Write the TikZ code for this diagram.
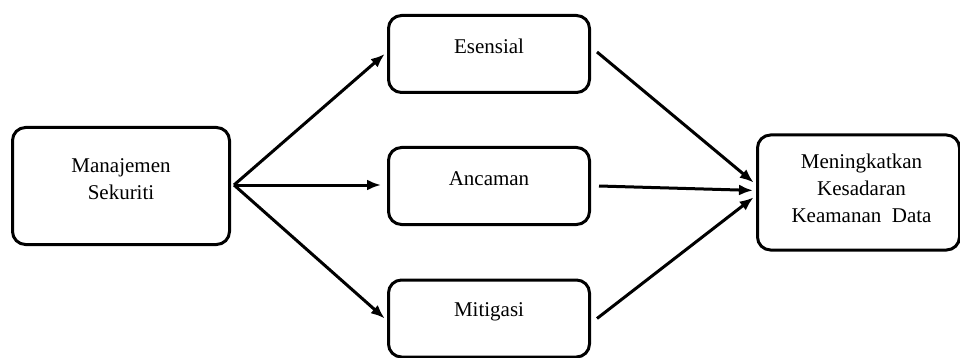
\documentclass[tikz,border=0pt]{standalone}
\usepackage{fontspec}
\setmainfont{Liberation Serif}
\usetikzlibrary{arrows.meta,positioning,calc}
\tikzset{
  kotak/.style={draw, line width=3pt, rounded corners=13pt, inner sep=0pt},
  teks/.style={align=center, font=\fontsize{21}{27}\selectfont},
  panah/.style={line width=3pt, -{Latex[length=14pt,width=11pt]}, shorten >=3pt}
}
\begin{document}
\begin{tikzpicture}[x=1pt,y=-1pt]
    \useasboundingbox (0,0) rectangle (960,358);
    \node[kotak, minimum width=217pt, minimum height=117pt] (mgmt) at (121,186) {};
    \node[kotak, minimum width=201pt, minimum height=77pt] (esensial) at (489,54) {};
    \node[kotak, minimum width=201pt, minimum height=77pt] (ancaman) at (489,186) {};
    \node[kotak, minimum width=201pt, minimum height=77pt] (mitigasi) at (489,318.5) {};
    \node[kotak, minimum width=202pt, minimum height=115pt] (goal) at (858.5,192.5) {};
    \node[teks] (t1) at ([yshift=7pt]mgmt.center) {Manajemen\\Sekuriti};
    \node[teks] (t2) at ([yshift=8pt]esensial.center) {Esensial};
    \node[teks] (t3) at ([yshift=7pt]ancaman.center) {Ancaman};
    \node[teks] (t4) at ([yshift=7pt]mitigasi.center) {Mitigasi};
    \node[teks] (t5) at ([xshift=3pt,yshift=4pt]goal.center) {Meningkatkan\\Kesadaran\\Keamanan~ Data};
    % dari manajemen ke tiga faktor
    \coordinate (hub) at (234,185);
    \draw[panah] (hub) -- ([yshift=2pt]esensial.west);
    \draw[panah] (hub) -- ([xshift=-3pt,yshift=1pt]ancaman.west);
    \draw[panah] (hub) -- ([yshift=-2pt]mitigasi.west);
    % ke kesadaran keamanan
    \coordinate (g1) at ([yshift=8pt]goal.west);
    \coordinate (g2) at ([yshift=2pt]goal.west);
    \coordinate (g3) at ([yshift=-3pt]goal.west);
    \draw[panah] ([xshift=6pt,yshift=2pt]esensial.east) -- (g1);
    \draw[panah] ([xshift=8pt]ancaman.east) -- (g2);
    \draw[panah] ([xshift=6pt]mitigasi.east) -- (g3);
\end{tikzpicture}
\end{document}
